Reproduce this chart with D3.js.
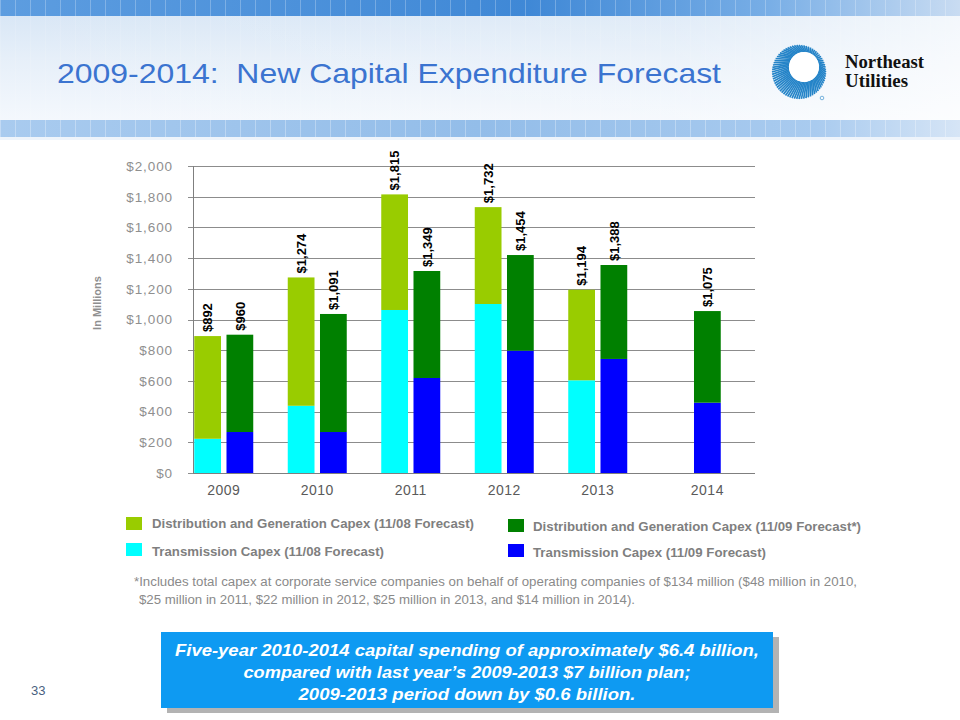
<!DOCTYPE html>
<html>
<head>
<meta charset="utf-8">
<script src="https://cdn.jsdelivr.net/npm/d3@7"></script>
<style>
  html, body { margin: 0; padding: 0; background: #ffffff; }
  svg { display: block; }
</style>
</head>
<body>
<svg id="chart" width="960" height="720"></svg>
<script>
// ---------------- DATA ----------------
const years = ["2009", "2010", "2011", "2012", "2013", "2014"];
const transmission0811 = [223, 438, 1062, 1101, 604, null];
const distGen0811 = [669, 836, 753, 631, 590, null];
const transmission0911 = [267, 267, 619, 797, 743, 458];
const distGen0911 = [634, 769, 697, 623, 612, 597];
const totalLabels0811 = ["$892", "$1,274", "$1,815", "$1,732", "$1,194", null];
const totalLabels0911 = ["$960", "$1,091", "$1,349", "$1,454", "$1,388", "$1,075"];
const yTickValues = [0, 200, 400, 600, 800, 1000, 1200, 1400, 1600, 1800, 2000];
const seriesNames = [
  "Distribution and Generation Capex (11/08 Forecast)",
  "Transmission Capex (11/08 Forecast)",
  "Distribution and Generation Capex (11/09 Forecast*)",
  "Transmission Capex (11/09 Forecast)"
];
const seriesColors = ["#99cc00", "#00ffff", "#008000", "#0000ff"];
const titleText = "2009-2014:  New Capital Expenditure Forecast";
const footnoteLines = [
  "*Includes total capex at corporate service companies on behalf of operating companies of $134 million ($48 million in 2010,",
  "$25 million in 2011, $22 million in 2012, $25 million in 2013, and $14 million in 2014)."
];
const boxLines = [
  "Five-year 2010-2014 capital spending of approximately $6.4 billion,",
  "compared with last year\u2019s 2009-2013 $7 billion plan;",
  "2009-2013 period down by $0.6 billion."
];

// ---------------- SETUP ----------------
const svg = d3.select("#chart");
const defs = svg.append("defs");

const gTop = defs.append("linearGradient").attr("id", "gTop").attr("x1", 0).attr("x2", 1).attr("y1", 0).attr("y2", 0);
gTop.append("stop").attr("offset", "0%").attr("stop-color", "#5d9de0");
gTop.append("stop").attr("offset", "55%").attr("stop-color", "#3f88d6");
gTop.append("stop").attr("offset", "80%").attr("stop-color", "#78aee6");
gTop.append("stop").attr("offset", "100%").attr("stop-color", "#c9dcf2");

const gMid = defs.append("linearGradient").attr("id", "gMid").attr("x1", 0).attr("x2", 0).attr("y1", 0).attr("y2", 1);
gMid.append("stop").attr("offset", "0%").attr("stop-color", "#d9e7f6");
gMid.append("stop").attr("offset", "40%").attr("stop-color", "#e6eff9");
gMid.append("stop").attr("offset", "100%").attr("stop-color", "#f4f8fd");

const gMidH = defs.append("linearGradient").attr("id", "gMidH").attr("x1", 0).attr("x2", 1).attr("y1", 0).attr("y2", 0);
gMidH.append("stop").attr("offset", "0%").attr("stop-color", "#ffffff").attr("stop-opacity", 0);
gMidH.append("stop").attr("offset", "70%").attr("stop-color", "#ffffff").attr("stop-opacity", 0.2);
gMidH.append("stop").attr("offset", "100%").attr("stop-color", "#ffffff").attr("stop-opacity", 0.7);

const gBot = defs.append("linearGradient").attr("id", "gBot").attr("x1", 0).attr("x2", 1).attr("y1", 0).attr("y2", 0);
gBot.append("stop").attr("offset", "0%").attr("stop-color", "#a9cbef");
gBot.append("stop").attr("offset", "50%").attr("stop-color", "#93bde9");
gBot.append("stop").attr("offset", "85%").attr("stop-color", "#a9cbef");
gBot.append("stop").attr("offset", "100%").attr("stop-color", "#d6e5f6");

// header
svg.append("rect").attr("x", 0).attr("y", 0).attr("width", 960).attr("height", 720).attr("fill", "#ffffff");
svg.append("rect").attr("x", 0).attr("y", 16).attr("width", 960).attr("height", 104).attr("fill", "url(#gMid)");
svg.append("rect").attr("x", 0).attr("y", 16).attr("width", 960).attr("height", 104).attr("fill", "url(#gMidH)");
svg.append("rect").attr("x", 0).attr("y", 0).attr("width", 960).attr("height", 16).attr("fill", "url(#gTop)");
svg.append("rect").attr("x", 0).attr("y", 120).attr("width", 960).attr("height", 17).attr("fill", "url(#gBot)");
svg.append("rect").attr("x", 0).attr("y", 137).attr("width", 960).attr("height", 3).attr("fill", "#eef4fb");
const stripeX = d3.range(0, 960, 15);
svg.append("g").selectAll("line").data(stripeX).join("line")
  .attr("x1", d => d + 0.5).attr("x2", d => d + 0.5)
  .attr("y1", 0).attr("y2", 16)
  .attr("stroke", "#ffffff").attr("stroke-opacity", 0.25);
svg.append("g").selectAll("line").data(stripeX).join("line")
  .attr("x1", d => d + 0.5).attr("x2", d => d + 0.5)
  .attr("y1", 120).attr("y2", 137)
  .attr("stroke", "#ffffff").attr("stroke-opacity", 0.3);
svg.append("g").selectAll("line").data(stripeX).join("line")
  .attr("x1", d => d + 0.5).attr("x2", d => d + 0.5)
  .attr("y1", 16).attr("y2", 120)
  .attr("stroke", "#ffffff").attr("stroke-opacity", 0.12);

// title
svg.append("text")
  .attr("x", 57).attr("y", 83)
  .attr("font-family", "Arial, 'Liberation Sans', sans-serif")
  .attr("font-size", 28)
  .attr("fill", "#3b74d0")
  .attr("textLength", 664).attr("lengthAdjust", "spacingAndGlyphs")
  .style("white-space", "pre")
  .text(titleText);

// logo
const logo = svg.append("g").attr("transform", "translate(799,72)");
logo.append("circle").attr("r", 27).attr("fill", "#ffffff");
const rayAngles = d3.range(0, 360, 5);
const hole = { cx: 5, cy: -5, r: 15 };
logo.selectAll("line.ray").data(rayAngles).join("line")
  .attr("class", "ray")
  .attr("x1", a => hole.cx + hole.r * Math.cos(a * Math.PI / 180))
  .attr("y1", a => hole.cy + hole.r * Math.sin(a * Math.PI / 180))
  .attr("x2", a => 27 * Math.cos(a * Math.PI / 180))
  .attr("y2", a => 27 * Math.sin(a * Math.PI / 180))
  .attr("stroke", "#2584c8")
  .attr("stroke-width", 1.7);
logo.append("circle").attr("cx", hole.cx).attr("cy", hole.cy).attr("r", hole.r).attr("fill", "#ffffff");
logo.append("circle").attr("cx", 23).attr("cy", 26).attr("r", 1.8).attr("fill", "none").attr("stroke", "#2584c8").attr("stroke-width", 0.6);
svg.append("text").attr("x", 845).attr("y", 68)
  .attr("font-family", "'Liberation Serif', 'DejaVu Serif', serif").attr("font-weight", "bold")
  .attr("font-size", 18.5).attr("fill", "#111111")
  .attr("textLength", 79).attr("lengthAdjust", "spacingAndGlyphs").text("Northeast");
svg.append("text").attr("x", 845).attr("y", 87)
  .attr("font-family", "'Liberation Serif', 'DejaVu Serif', serif").attr("font-weight", "bold")
  .attr("font-size", 18.5).attr("fill", "#111111")
  .attr("textLength", 63).attr("lengthAdjust", "spacingAndGlyphs").text("Utilities");

// ---------------- CHART ----------------
const axisX = 193;
const plotRight = 755;
const y = d3.scaleLinear().domain([0, 2000]).range([473, 166]);
const x = d3.scaleBand().domain(years).range([177, 738]).paddingInner(0).paddingOuter(0);
const xSub = d3.scaleBand().domain(["old", "new"]).range([17.25, 76.25]).paddingInner(0.17);

svg.append("g").selectAll("line").data(yTickValues).join("line")
  .attr("x1", axisX - 5).attr("x2", plotRight)
  .attr("y1", d => Math.round(y(d)) + 0.5).attr("y2", d => Math.round(y(d)) + 0.5)
  .attr("stroke", "#8c8c8c").attr("stroke-width", 1);

svg.append("line").attr("x1", axisX + 0.5).attr("x2", axisX + 0.5)
  .attr("y1", y(2000)).attr("y2", y(0) + 1)
  .attr("stroke", "#7f7f7f");

svg.append("g").selectAll("text").data(yTickValues).join("text")
  .attr("x", 173).attr("y", d => y(d)).attr("dy", "0.36em")
  .attr("text-anchor", "end")
  .attr("font-family", "Arial, 'Liberation Sans', sans-serif")
  .attr("font-size", 13.5).attr("letter-spacing", 0.9)
  .attr("fill", "#8f8f8f")
  .text(d => "$" + d3.format(",")(d));

svg.append("text")
  .attr("transform", "translate(101,303) rotate(-90)")
  .attr("text-anchor", "middle")
  .attr("font-family", "Arial, 'Liberation Sans', sans-serif")
  .attr("font-weight", "bold").attr("font-size", 11)
  .attr("fill", "#8f8f8f")
  .text("In Millions");

const bars = svg.append("g");
years.forEach((yr, i) => {
  const x0 = x(yr);
  if (transmission0811[i] != null) {
    bars.append("rect").attr("x", x0 + xSub("old")).attr("width", xSub.bandwidth())
      .attr("y", y(transmission0811[i])).attr("height", y(0) - y(transmission0811[i]))
      .attr("fill", seriesColors[1]);
    bars.append("rect").attr("x", x0 + xSub("old")).attr("width", xSub.bandwidth())
      .attr("y", y(transmission0811[i] + distGen0811[i]))
      .attr("height", y(transmission0811[i]) - y(transmission0811[i] + distGen0811[i]))
      .attr("fill", seriesColors[0]);
  }
  if (transmission0911[i] != null) {
    bars.append("rect").attr("x", x0 + xSub("new")).attr("width", xSub.bandwidth())
      .attr("y", y(transmission0911[i])).attr("height", y(0) - y(transmission0911[i]))
      .attr("fill", seriesColors[3]);
    bars.append("rect").attr("x", x0 + xSub("new")).attr("width", xSub.bandwidth())
      .attr("y", y(transmission0911[i] + distGen0911[i]))
      .attr("height", y(transmission0911[i]) - y(transmission0911[i] + distGen0911[i]))
      .attr("fill", seriesColors[2]);
  }
});

svg.append("line").attr("x1", axisX).attr("x2", plotRight)
  .attr("y1", Math.round(y(0)) + 0.5).attr("y2", Math.round(y(0)) + 0.5)
  .attr("stroke", "#7f7f7f");

const labelFont = "'Liberation Sans Narrow', 'Arial Narrow', Arial, sans-serif";
years.forEach((yr, i) => {
  const x0 = x(yr);
  if (totalLabels0811[i] != null) {
    const cx = x0 + xSub("old") + xSub.bandwidth() / 2;
    const top = y(transmission0811[i] + distGen0811[i]) - 4;
    svg.append("text").attr("transform", `translate(${cx},${top}) rotate(-90)`)
      .attr("dy", "0.36em").attr("text-anchor", "start")
      .attr("font-family", labelFont).attr("font-weight", "bold").attr("font-size", 13)
      .attr("fill", "#000000").text(totalLabels0811[i]);
  }
  if (totalLabels0911[i] != null) {
    const cx = x0 + xSub("new") + xSub.bandwidth() / 2;
    const top = y(transmission0911[i] + distGen0911[i]) - 4;
    svg.append("text").attr("transform", `translate(${cx},${top}) rotate(-90)`)
      .attr("dy", "0.36em").attr("text-anchor", "start")
      .attr("font-family", labelFont).attr("font-weight", "bold").attr("font-size", 13)
      .attr("fill", "#000000").text(totalLabels0911[i]);
  }
});

svg.append("g").selectAll("text").data(years).join("text")
  .attr("x", (d, i) => transmission0811[i] == null
      ? x(d) + xSub("new") + xSub.bandwidth() / 2
      : x(d) + x.bandwidth() / 2)
  .attr("y", 495)
  .attr("text-anchor", "middle")
  .attr("font-family", "Arial, 'Liberation Sans', sans-serif")
  .attr("font-size", 14).attr("letter-spacing", 0.5)
  .attr("fill", "#5a5a5a")
  .text(d => d);

// ---------------- LEGEND ----------------
const legendItems = [
  { name: seriesNames[0], color: seriesColors[0], sx: 126, sy: 517, tx: 152, ty: 528, w: 322 },
  { name: seriesNames[1], color: seriesColors[1], sx: 126, sy: 543, tx: 152, ty: 556, w: 232 },
  { name: seriesNames[2], color: seriesColors[2], sx: 508, sy: 519, tx: 533, ty: 531, w: 328 },
  { name: seriesNames[3], color: seriesColors[3], sx: 508, sy: 544, tx: 533, ty: 557, w: 233 }
];
const lg = svg.append("g");
lg.selectAll("rect").data(legendItems).join("rect")
  .attr("x", d => d.sx).attr("y", d => d.sy).attr("width", 16).attr("height", 13)
  .attr("fill", d => d.color);
lg.selectAll("text").data(legendItems).join("text")
  .attr("x", d => d.tx).attr("y", d => d.ty)
  .attr("font-family", "Arial, 'Liberation Sans', sans-serif")
  .attr("font-weight", "bold").attr("font-size", 12.5)
  .attr("fill", "#7f7f7f")
  .attr("textLength", d => d.w).attr("lengthAdjust", "spacingAndGlyphs")
  .text(d => d.name);

svg.append("text").attr("x", 134).attr("y", 586)
  .attr("font-family", "Arial, 'Liberation Sans', sans-serif").attr("font-size", 12.5)
  .attr("fill", "#8a8a8a").attr("textLength", 723).attr("lengthAdjust", "spacingAndGlyphs")
  .text(footnoteLines[0]);
svg.append("text").attr("x", 139).attr("y", 604)
  .attr("font-family", "Arial, 'Liberation Sans', sans-serif").attr("font-size", 12.5)
  .attr("fill", "#8a8a8a").attr("textLength", 496).attr("lengthAdjust", "spacingAndGlyphs")
  .text(footnoteLines[1]);

// ---------------- CALLOUT BOX ----------------
svg.append("rect").attr("x", 167).attr("y", 637).attr("width", 612).attr("height", 76).attr("fill", "#b3b3b3");
svg.append("rect").attr("x", 161).attr("y", 632).attr("width", 612).attr("height", 76).attr("fill", "#0e9af2");
const boxWidths = [584, 447, 337];
svg.append("g").selectAll("text").data(boxLines).join("text")
  .attr("x", 467).attr("y", (d, i) => 656 + i * 22)
  .attr("text-anchor", "middle")
  .attr("font-family", "Arial, 'Liberation Sans', sans-serif")
  .attr("font-weight", "bold").attr("font-style", "italic").attr("font-size", 17)
  .attr("fill", "#ffffff")
  .attr("textLength", (d, i) => boxWidths[i]).attr("lengthAdjust", "spacingAndGlyphs")
  .text(d => d);

svg.append("text").attr("x", 31).attr("y", 695)
  .attr("font-family", "Arial, 'Liberation Sans', sans-serif").attr("font-size", 13)
  .attr("fill", "#4a5f80").text("33");
</script>
</body>
</html>
